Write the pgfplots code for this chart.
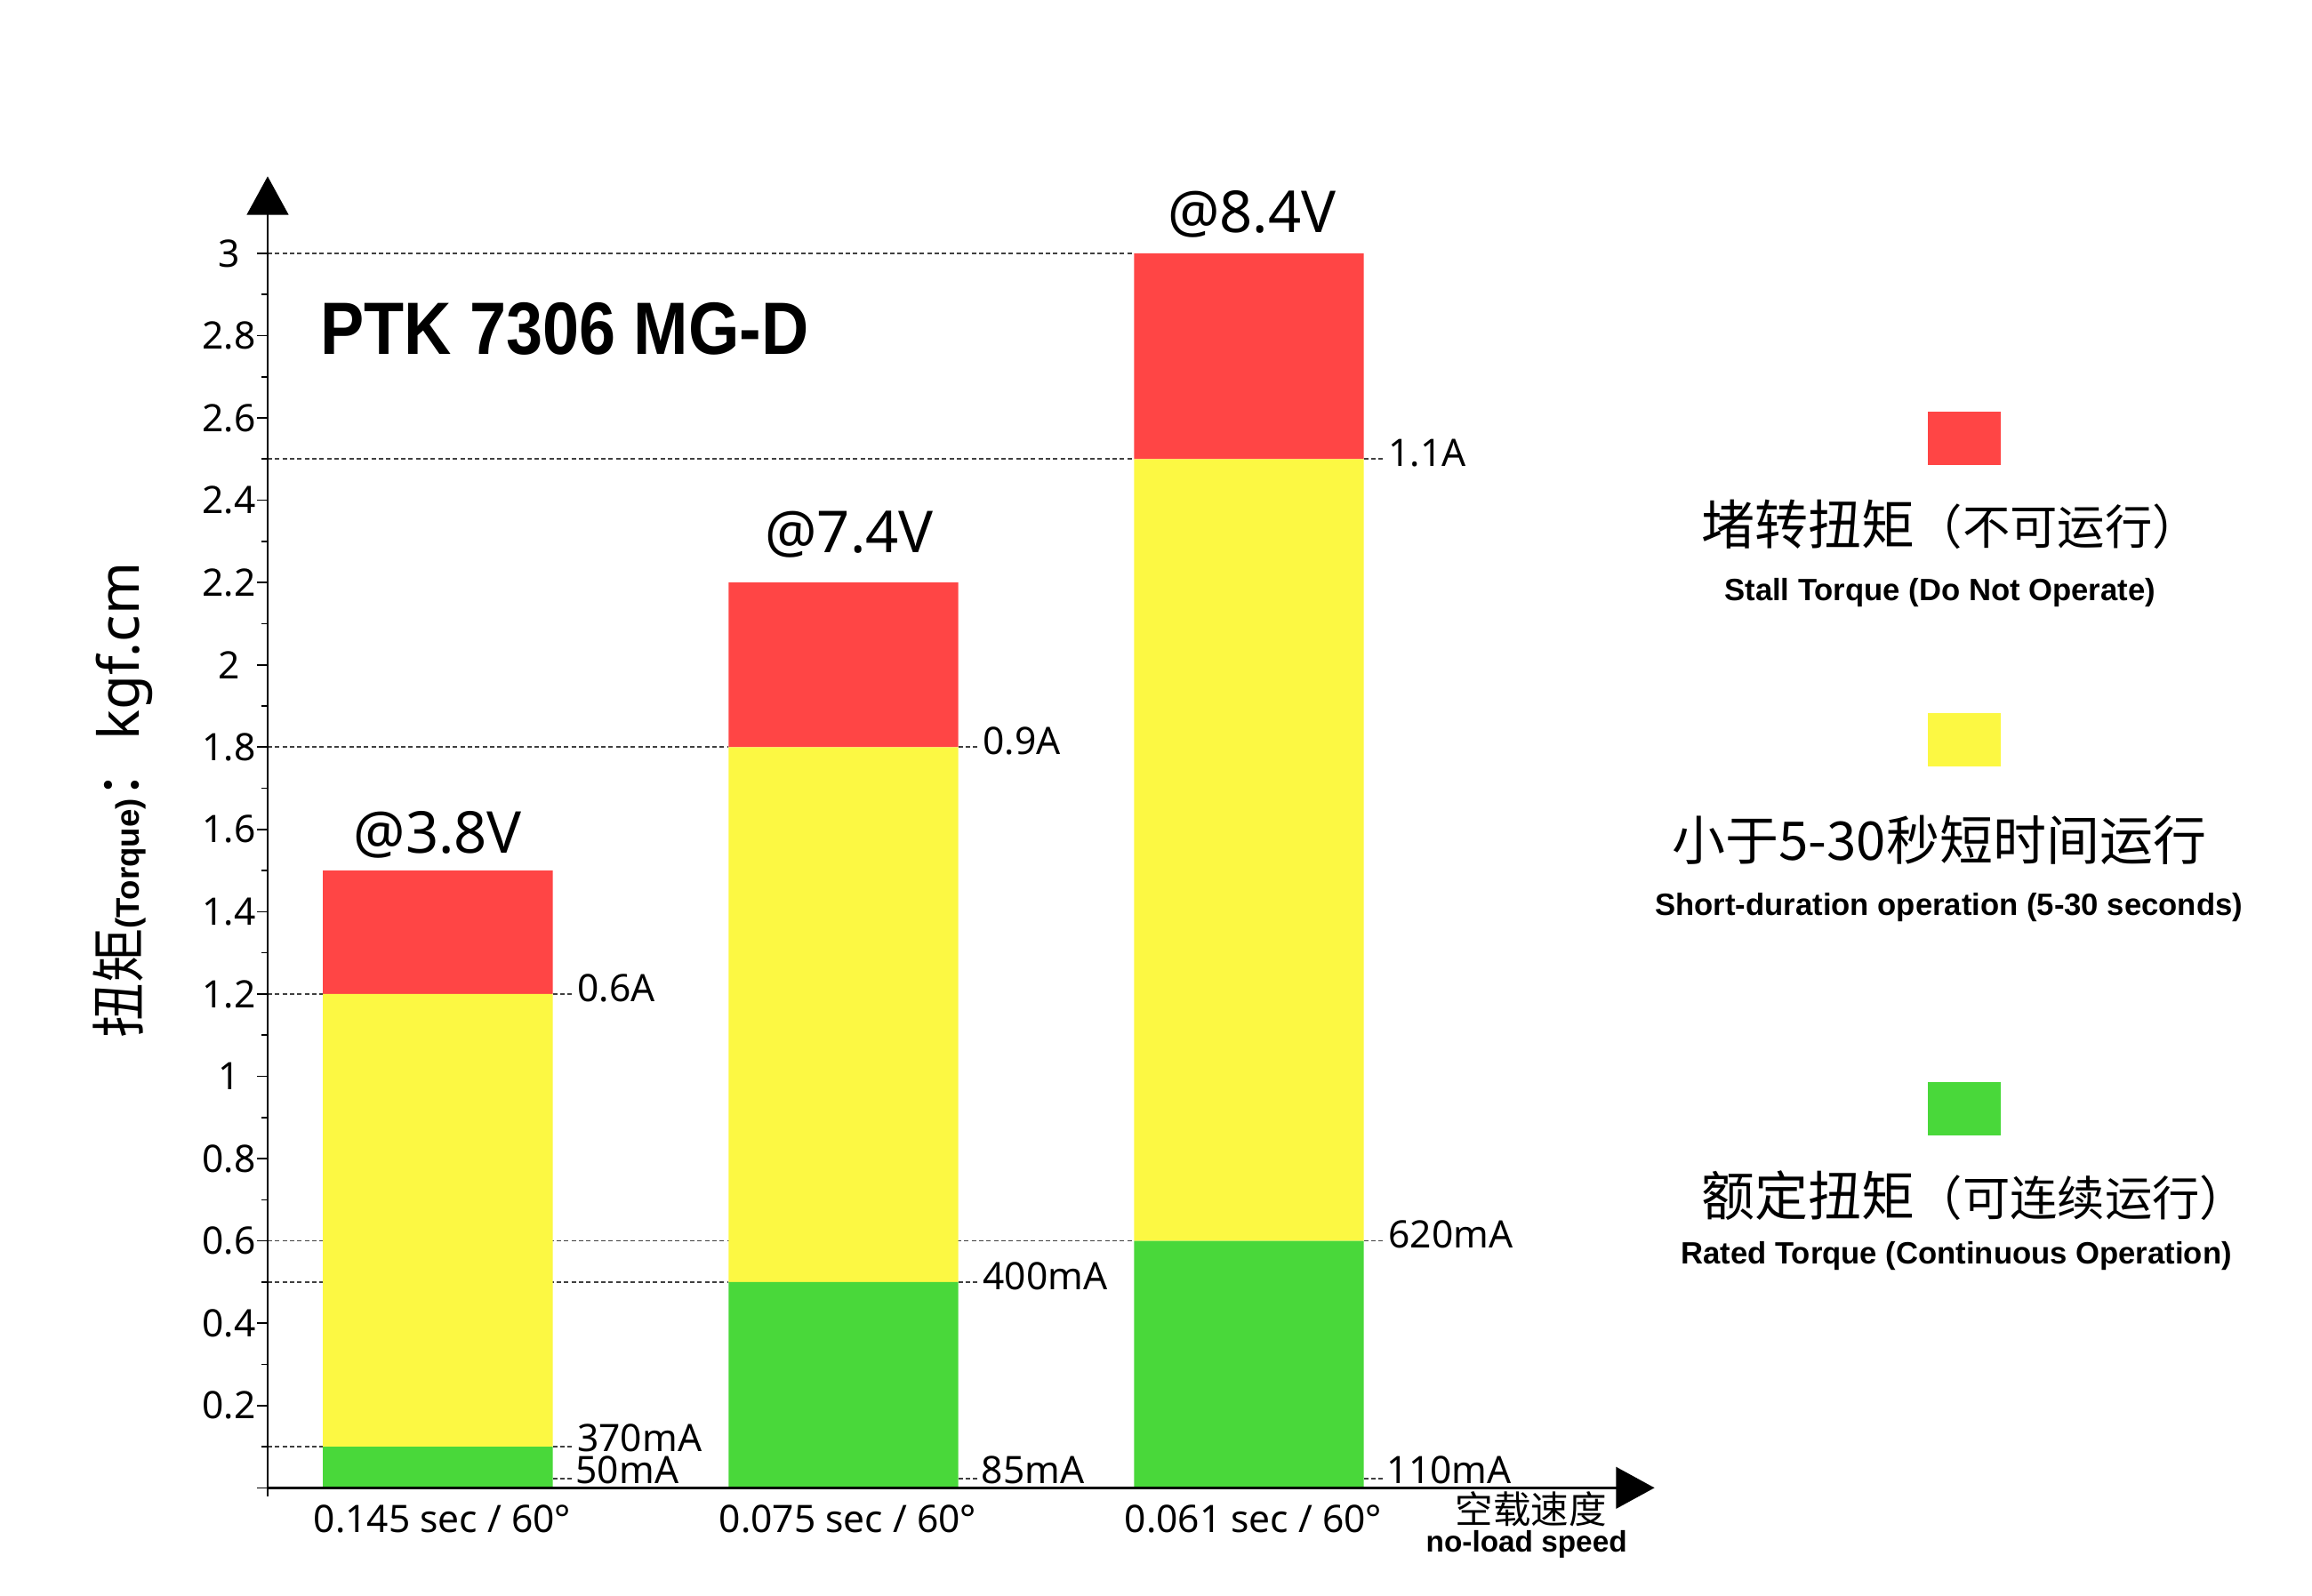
\documentclass[border=0pt]{standalone}
\usepackage{fontspec}
\usepackage{pgfplots}
\pgfplotsset{compat=1.18}
\usetikzlibrary{arrows.meta}
\setmainfont{Noto Sans}
\newfontfamily\cjk{Noto Sans CJK SC}
\newfontfamily\lib{Liberation Sans}
\newfontfamily\titlefont{Liberation Sans}[FakeStretch=0.885]
\definecolor{cRed}{RGB}{255,69,69}
\definecolor{cYel}{RGB}{252,248,67}
\definecolor{cGrn}{RGB}{73,216,58}
\newcommand{\fs}[1]{\fontsize{#1pt}{#1pt}\selectfont}
\tikzset{
  refl/.style={black!75, line width=1pt, dash pattern=on 3pt off 2pt},
  curlab/.style={anchor=base west, inner sep=0pt, font=\fs{25.5}},
  barlab/.style={anchor=base, inner sep=0pt, font=\fs{39}},
}
\newcommand{\lvl}[4][-5pt]{%
  \draw[refl] (axis cs:-0.4195,#2) -- ([xshift=-77.5pt]axis cs:#3,#2);
  \draw[refl] ([xshift=77.5pt]axis cs:#3,#2) -- ([xshift=91pt]axis cs:#3,#2);
  \node[curlab] at ([xshift=94pt,yshift=#1]axis cs:#3,#2) {#4};
}
\newcommand{\blvl}[2]{%
  \draw[refl] ([xshift=77.5pt]axis cs:#1,0.022) -- ([xshift=91pt]axis cs:#1,0.022);
  \node[curlab] at ([xshift=93pt]axis cs:#1,0.0108) {#2};
}
\begin{document}
\begin{tikzpicture}
\path[use as bounding box] (0,0) rectangle (1560pt,1076.4pt);
\begin{axis}[
  at={(180.6pt,72.4pt)}, anchor=south west,
  scale only axis, width=935.75pt, height=885pt,
  xmin=-0.4195, xmax=3.0, ymin=0, ymax=3.187,
  axis x line=bottom, axis y line=left,
  axis line style={line width=1.6pt, -{Triangle[width=28pt,length=26pt]}},
  axis on top,
  ybar stacked, bar width=155pt,
  xtick={0,1,2},
  xticklabels={0.145 sec / 60°, 0.075 sec / 60°, 0.061 sec / 60°},
  x tick style={draw=none},
  ytick={0.2,0.4,0.6,0.8,1,1.2,1.4,1.6,1.8,2,2.2,2.4,2.6,2.8,3},
  minor ytick={0.1,0.3,0.5,0.7,0.9,1.1,1.3,1.5,1.7,1.9,2.1,2.3,2.5,2.7,2.9},
  extra y ticks={0}, extra y tick labels={},
  tick align=outside,
  major tick length=7pt, minor tick length=4pt,
  y tick style={line width=1pt, black},
  /pgf/number format/assume math mode=true,
  yticklabel style={font=\fs{25.5}, anchor=center, xshift=-19pt},
  xticklabel style={font=\fs{25.5}, anchor=base, yshift=-23pt, xshift=3pt},
  clip=false,
]
\addplot[fill=cGrn, draw=none] coordinates {(0,0.1) (1,0.5) (2,0.6)};
\addplot[fill=cYel, draw=none] coordinates {(0,1.1) (1,1.3) (2,1.9)};
\addplot[fill=cRed, draw=none] coordinates {(0,0.3) (1,0.4) (2,0.5)};

\draw[refl] (axis cs:-0.4195,3.0) -- ([xshift=-77.5pt]axis cs:2,3.0);
\lvl{2.5}{2}{1.1A}
\lvl{1.8}{1}{0.9A}
\lvl{1.2}{0}{0.6A}
\lvl{0.6}{2}{620mA}
\lvl{0.5}{1}{400mA}
\lvl[-3.5pt]{0.1}{0}{370mA}
\blvl{0}{50mA}
\blvl{1}{85mA}
\blvl{2}{110mA}

\node[barlab] at ([yshift=12pt]axis cs:0,1.5) {@3.8V};
\node[barlab] at ([xshift=4pt,yshift=20pt]axis cs:1,2.2) {@7.4V};
\node[barlab] at ([xshift=2pt,yshift=14pt]axis cs:2,3.0) {@8.4V};

\draw[line width=1.6pt] (axis cs:-0.4195,0) -- ([yshift=-6pt]axis cs:-0.4195,0);
\end{axis}

\node[anchor=base west, inner sep=0pt, font=\titlefont\bfseries\fs{50}] at (216pt,837.4pt) {PTK 7306 MG-D};

\node[rotate=90, anchor=base, inner sep=0pt] at (94pt,536.4pt)
  {{\cjk\fs{37}扭矩}{\lib\bfseries\fs{22}(Torque)}{\cjk\fs{37}：} {\fs{38}kgf.cm}};

\node[anchor=base, inner sep=0pt, font=\cjk\fs{25.5}] at (1033pt,48.4pt) {空载速度};
\node[anchor=base, inner sep=0pt, font=\lib\bfseries\fs{20}] at (1030pt,29.4pt) {no-load speed};

\fill[cRed] (1301pt,762.4pt) rectangle (1350pt,798.4pt);
\fill[cYel] (1301pt,559.4pt) rectangle (1350pt,595.4pt);
\fill[cGrn] (1301pt,310.4pt) rectangle (1350pt,346.4pt);

\node[anchor=base west, inner sep=0pt] at (1148pt,708.9pt) {{\cjk\fs{36}堵转扭矩}{\cjk\fs{32}（不可运行）}};
\node[anchor=base west, inner sep=0pt] at (1128pt,495.9pt) {\cjk\fs{36}小于5-30秒短时间运行};
\node[anchor=base west, inner sep=0pt] at (1148pt,255.9pt) {{\cjk\fs{36}额定扭矩}{\cjk\fs{32}（可连续运行）}};

\node[anchor=base, inner sep=0pt, font=\lib\bfseries\fs{20.8}] at (1309pt,670.8pt) {Stall Torque (Do Not Operate)};
\node[anchor=base, inner sep=0pt, font=\lib\bfseries\fs{20.8}] at (1315pt,458.4pt) {Short-duration operation (5-30 seconds)};
\node[anchor=base, inner sep=0pt, font=\lib\bfseries\fs{20.8}] at (1320pt,223.4pt) {Rated Torque (Continuous Operation)};
\end{tikzpicture}
\end{document}
